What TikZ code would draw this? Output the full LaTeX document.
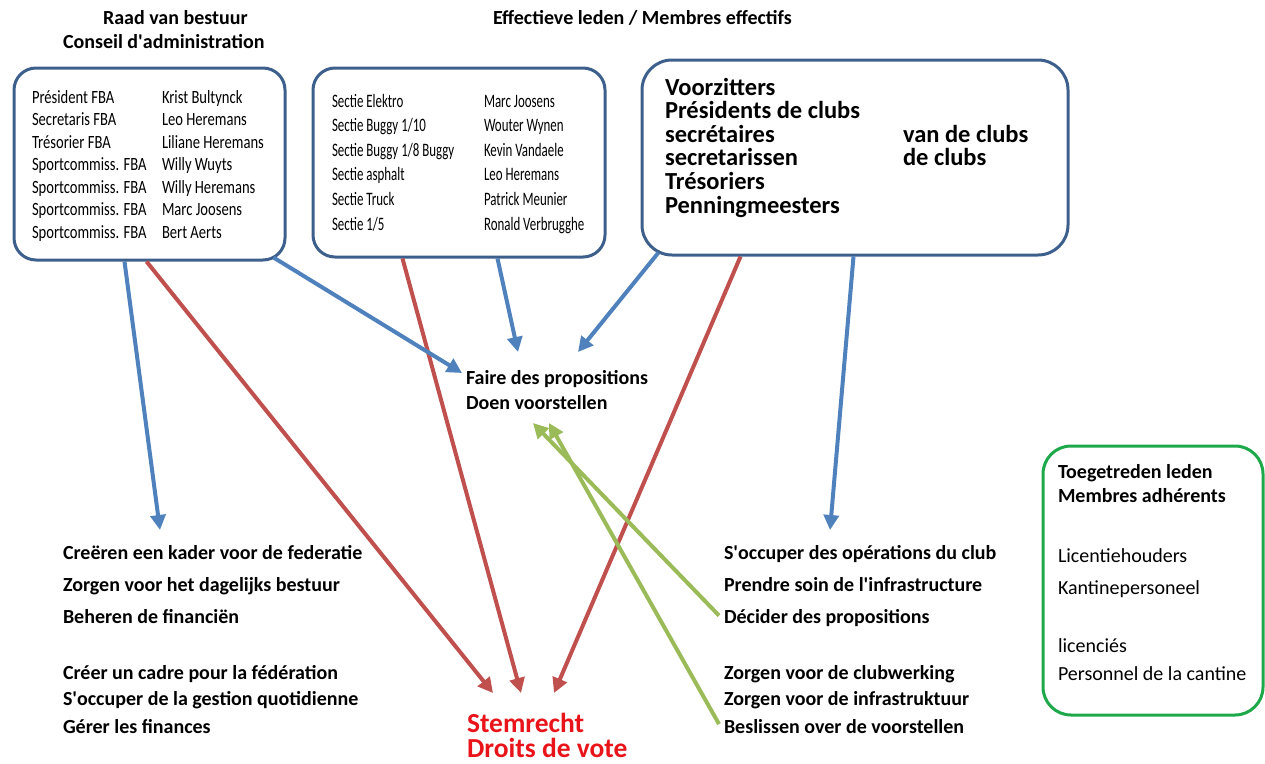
\documentclass[tikz,border=0pt]{standalone}
\usepackage{fontspec}
\setmainfont{Carlito}
\newfontfamily\condA{Carlito}[FakeStretch=0.78]
\newfontfamily\condB{Carlito}[FakeStretch=0.68]
\usetikzlibrary{arrows.meta,calc}
\definecolor{bxblue}{HTML}{3D5F8C}
\definecolor{bxgreen}{HTML}{1DA84A}
\definecolor{arblue}{HTML}{4F81BD}
\definecolor{arred}{HTML}{C0504D}
\definecolor{argreen}{HTML}{9BBB59}
\definecolor{vote}{HTML}{E8141A}
\newcommand{\apo}{\textquotesingle}
\tikzset{
  bluebox/.style={draw=bxblue, line width=3pt, rounded corners=22pt, fill=none, inner sep=0pt},
  greenbox/.style={draw=bxgreen, line width=3pt, rounded corners=28pt, fill=none, inner sep=0pt},
  txt/.style={anchor=base west, inner sep=0pt, outer sep=0pt},
  tA/.style={txt, font=\fontsize{18.7}{20}\condA},
  tB/.style={txt, font=\fontsize{19}{20}\condB},
  tbold/.style={txt, font=\fontsize{20}{22}\selectfont\bfseries},
  tbig/.style={txt, font=\fontsize{24.5}{26}\selectfont\bfseries},
  tplain/.style={txt, font=\fontsize{20}{22}\selectfont},
  tvote/.style={txt, font=\fontsize{27.5}{29}\selectfont\bfseries, text=vote},
  arr/.style={line width=4pt, -{Triangle[length=15pt,width=15pt]}},
  barrow/.style={arr, draw=arblue},
  rarrow/.style={arr, draw=arred},
  garrow/.style={arr, draw=argreen},
}
\begin{document}
\begin{tikzpicture}[x=1pt,y=-1pt]
\useasboundingbox (0,0) rectangle (1265,763);
% titles
\node[tbold] (raad) at (103,24) {Raad van bestuur};
\node[tbold] (conseil) at (63,48) {Conseil d\apo administration};
\node[tbold] (eff) at (493,24) {Effectieve leden / Membres effectifs};
% boxes
\node[bluebox, minimum width=271pt, minimum height=192pt] (box1) at (149.5,164) {};
\node[bluebox, minimum width=292pt, minimum height=189pt] (box2) at (459,162.5) {};
\node[bluebox, rounded corners=30pt, minimum width=426pt, minimum height=195pt] (box3) at (855,157.5) {};
\node[greenbox, minimum width=220pt, minimum height=269pt] (box4) at (1153,580.5) {};
% box1 text
\node[tA] (a1) at (32,103) {Président FBA};
\node[tA] (a2) at (32,125.5) {Secretaris FBA};
\node[tA] (a3) at (32,148) {Trésorier FBA};
\node[tA] (a4) at (32,170.5) {Sportcommiss. FBA};
\node[tA] (a5) at (32,193) {Sportcommiss. FBA};
\node[tA] (a6) at (32,215.5) {Sportcommiss. FBA};
\node[tA] (a7) at (32,238) {Sportcommiss. FBA};
\node[tA] (b1) at (162,103) {Krist Bultynck};
\node[tA] (b2) at (162,125.5) {Leo Heremans};
\node[tA] (b3) at (162,148) {Liliane Heremans};
\node[tA] (b4) at (162,170.5) {Willy Wuyts};
\node[tA] (b5) at (162,193) {Willy Heremans};
\node[tA] (b6) at (162,215.5) {Marc Joosens};
\node[tA] (b7) at (162,238) {Bert Aerts};
% box2 text
\node[tB] (c1) at (332,107) {Sectie Elektro};
\node[tB] (c2) at (332,131.6) {Sectie Buggy 1/10};
\node[tB] (c3) at (332,156.2) {Sectie Buggy 1/8 Buggy};
\node[tB] (c4) at (332,180.8) {Sectie asphalt};
\node[tB] (c5) at (332,205.4) {Sectie Truck};
\node[tB] (c6) at (332,230) {Sectie 1/5};
\node[tB] (d1) at (484,107) {Marc Joosens};
\node[tB] (d2) at (484,131.6) {Wouter Wynen};
\node[tB] (d3) at (484,156.2) {Kevin Vandaele};
\node[tB] (d4) at (484,180.8) {Leo Heremans};
\node[tB] (d5) at (484,205.4) {Patrick Meunier};
\node[tB] (d6) at (484,230) {Ronald Verbrugghe};
% box3 text
\node[tbig] (e1) at (665,95) {Voorzitters};
\node[tbig] (e2) at (665,118.6) {Présidents de clubs};
\node[tbig] (e3) at (665,142.2) {secrétaires};
\node[tbig] (e4) at (665,165.8) {secretarissen};
\node[tbig] (e5) at (665,189.4) {Trésoriers};
\node[tbig] (e6) at (665,213) {Penningmeesters};
\node[tbig] (f1) at (903,142.2) {van de clubs};
\node[tbig] (f2) at (903,165.8) {de clubs};
% green box text
\node[tbold] (g1) at (1058,478) {Toegetreden leden};
\node[tbold] (g2) at (1058,502) {Membres adhérents};
\node[tplain] (g3) at (1058,562) {Licentiehouders};
\node[tplain] (g4) at (1058,594) {Kantinepersoneel};
\node[tplain] (g5) at (1058,652) {licenciés};
\node[tplain] (g6) at (1058,680) {Personnel de la cantine};
% middle
\node[tbold] (faire) at (466,384) {Faire des propositions};
\node[tbold] (doen) at (466,409) {Doen voorstellen};
% bottom left
\node[tbold] (l1) at (63,559) {Creëren een kader voor de federatie};
\node[tbold] (l2) at (63,591) {Zorgen voor het dagelijks bestuur};
\node[tbold] (l3) at (63,623) {Beheren de financiën};
\node[tbold] (l4) at (63,679) {Créer un cadre pour la fédération};
\node[tbold] (l5) at (63,705) {S\apo occuper de la gestion quotidienne};
\node[tbold] (l6) at (63,733) {Gérer les finances};
% bottom right
\node[tbold] (r1) at (724,559) {S\apo occuper des opérations du club};
\node[tbold] (r2) at (724,591) {Prendre soin de l\apo infrastructure};
\node[tbold] (r3) at (724,623) {Décider des propositions};
\node[tbold] (r4) at (724,679) {Zorgen voor de clubwerking};
\node[tbold] (r5) at (724,705) {Zorgen voor de infrastruktuur};
\node[tbold] (r6) at (724,733) {Beslissen over de voorstellen};
% vote
\node[tvote] (stem) at (467,732) {Stemrecht};
\node[tvote] (droits) at (467,757) {Droits de vote};
% arrow tips
\coordinate (tb1) at (160,530);
\coordinate (tb2) at (462,373);
\coordinate (tb3) at (518,352);
\coordinate (tb4) at (578,352);
\coordinate (tb5) at (830,530);
\coordinate (tr1) at (493,693);
\coordinate (tr2) at (521,693);
\coordinate (tr3) at (554,693);
\coordinate (tg1) at (533,423);
\coordinate (tg2) at (549,423);
% red arrows
\draw[rarrow] ($(box1.south west)+(134,0)$) -- (tr1);
\draw[rarrow] ($(box2.south west)+(91,0)$) -- (tr2);
\draw[rarrow] ($(box3.south west)+(100,0)$) -- (tr3);
% blue arrows
\draw[barrow] ($(box1.south west)+(112,0)$) -- (tb1);
\draw[barrow] ($(box1.south east)+(-13,-4)$) -- (tb2);
\draw[barrow] ($(box2.south west)+(186,0)$) -- (tb3);
\draw[barrow] ($(box3.south west)+(18,-4)$) -- (tb4);
\draw[barrow] ($(box3.south west)+(213,0)$) -- (tb5);
% green arrows
\draw[garrow] ($(r3.west)+(-5,-2)$) -- (tg1);
\draw[garrow] ($(r6.west)+(-5,-2)$) -- (tg2);
\end{tikzpicture}
\end{document}
